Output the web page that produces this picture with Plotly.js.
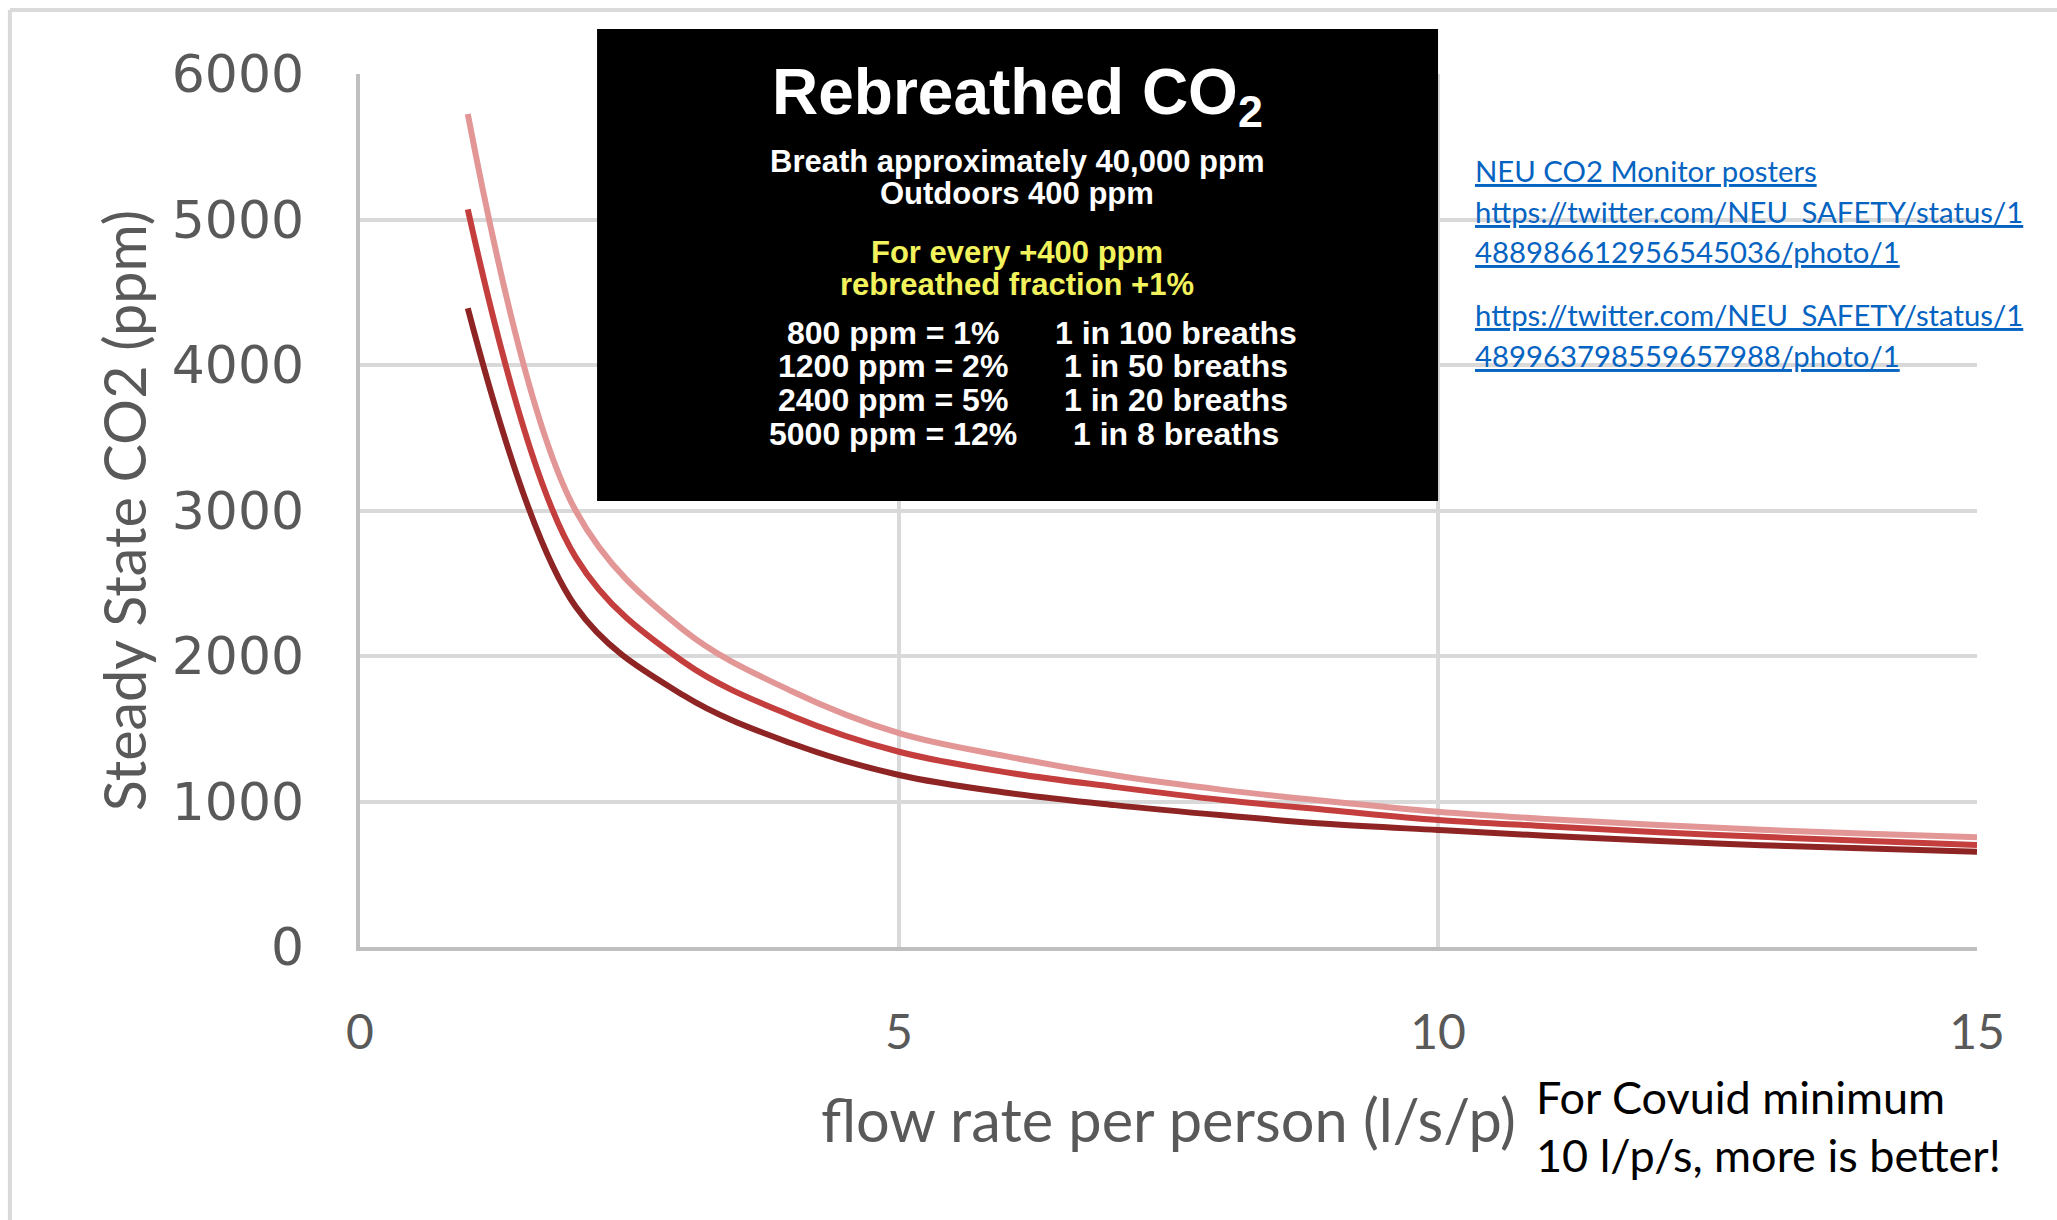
<!DOCTYPE html>
<html>
<head>
<meta charset="utf-8">
<script src="https://cdn.plot.ly/plotly-3.0.1.min.js"></script>
<style>
  html, body { margin: 0; padding: 0; background: #ffffff; overflow: hidden; }
  #chart { width: 2057px; height: 1220px; }
</style>
</head>
<body>
<div id="chart"></div>
<script>
// ---- data ----
const flowRate = [1, 2, 3, 4, 5, 6, 7, 8, 9, 10, 11, 12, 13, 14, 15];
const co2High  = [5725, 3000, 2180, 1760, 1470, 1310, 1180, 1080, 1000, 930, 880, 840, 805, 778, 754];
const co2Mid   = [5070, 2680, 1960, 1590, 1342, 1200, 1100, 1010, 940, 873, 830, 790, 757, 728, 701];
const co2Low   = [4390, 2340, 1730, 1400, 1182, 1060, 975, 905, 845, 804, 765, 730, 700, 677, 655];

const xTicks = [0, 5, 10, 15];
const yTicks = [0, 1000, 2000, 3000, 4000, 5000, 6000];

const xTitle = 'flow rate per person (l/s/p)';
const yTitle = 'Steady State CO2 (ppm)';

const boxTitle = 'Rebreathed CO<sub>2</sub>';
const boxIntro = ['Breath approximately 40,000 ppm', 'Outdoors 400 ppm'];
const boxYellow = ['For every +400 ppm', 'rebreathed fraction +1%'];
const boxRowsLeft = ['800 ppm = 1%', '1200 ppm = 2%', '2400 ppm = 5%', '5000 ppm = 12%'];
const boxRowsRight = ['1 in 100 breaths', '1 in 50 breaths', '1 in 20 breaths', '1 in 8 breaths'];

const linkLines = [
  'NEU CO2 Monitor posters',
  'https://twitter.com/NEU_SAFETY/status/1',
  '488986612956545036/photo/1',
  'https://twitter.com/NEU_SAFETY/status/1',
  '489963798559657988/photo/1'
];
const noteLines = ['For Covuid minimum', '10 l/p/s, more is better!'];

// ---- styling ----
const GRAY = '#595959';
const LATO = 'Lato, "Open Sans", sans-serif';
const BOLD = '"Liberation Sans", Arial, sans-serif';

const mk = (y, color) => ({
  x: flowRate, y: y, type: 'scatter', mode: 'lines',
  line: { color: color, width: 6, shape: 'spline', smoothing: 1 },
  hoverinfo: 'x+y', showlegend: false
});
const traces = [mk(co2Low, '#8E2424'), mk(co2Mid, '#C43E3E'), mk(co2High, '#E29696')];

const ann = [];
const boxCx = 0.4066;
ann.push({ xref: 'paper', yref: 'paper', x: boxCx, y: 0.9748, xanchor: 'center', yanchor: 'middle',
  text: '<b>' + boxTitle + '</b>', showarrow: false, font: { family: BOLD, size: 64, color: '#ffffff' } });
const introY = [0.8994, 0.8628];
boxIntro.forEach((t, i) => ann.push({ xref: 'paper', yref: 'paper', x: boxCx, y: introY[i], xanchor: 'center', yanchor: 'middle',
  text: '<b>' + t + '</b>', showarrow: false, borderpad: 0, font: { family: BOLD, size: 31, color: '#ffffff' } }));
const yellowY = [0.7959, 0.7592];
boxYellow.forEach((t, i) => ann.push({ xref: 'paper', yref: 'paper', x: boxCx, y: yellowY[i], xanchor: 'center', yanchor: 'middle',
  text: '<b>' + t + '</b>', showarrow: false, borderpad: 0, font: { family: BOLD, size: 31, color: '#F2F25C' } }));
const rowY = [0.7031, 0.6655, 0.6264, 0.5873];
boxRowsLeft.forEach((t, i) => ann.push({ xref: 'paper', yref: 'paper', x: 0.3299, y: rowY[i], xanchor: 'center', yanchor: 'middle',
  text: '<b>' + t + '</b>', showarrow: false, borderpad: 0, font: { family: BOLD, size: 32, color: '#ffffff' } }));
boxRowsRight.forEach((t, i) => ann.push({ xref: 'paper', yref: 'paper', x: 0.5044, y: rowY[i], xanchor: 'center', yanchor: 'middle',
  text: '<b>' + t + '</b>', showarrow: false, borderpad: 0, font: { family: BOLD, size: 32, color: '#ffffff' } }));

const linkY = [0.8894, 0.8428, 0.7962, 0.7241, 0.6775];
linkLines.forEach((t, i) => ann.push({ xref: 'paper', yref: 'paper', x: 0.6886, y: linkY[i], xanchor: 'left', yanchor: 'middle',
  text: t, showarrow: false, font: { family: LATO, size: 29.3, color: '#0563C1', lineposition: 'under' } }));

const noteY = [-0.1716, -0.2378];
noteLines.forEach((t, i) => ann.push({ xref: 'paper', yref: 'paper', x: 0.7260, y: noteY[i], xanchor: 'left', yanchor: 'middle',
  text: t, showarrow: false, font: { family: LATO, size: 45, color: '#000000' } }));

const shapes = [
  { type: 'rect', xref: 'paper', yref: 'paper', x0: 0.1466, x1: 0.6667, y0: 0.5109, y1: 1.0515,
    fillcolor: '#000000', line: { width: 0 }, layer: 'above' },
  { type: 'line', xref: 'paper', yref: 'paper', x0: -0.2165, x1: -0.2165, y0: -0.32, y1: 1.0733,
    line: { color: '#DADADA', width: 4 } },
  { type: 'line', xref: 'paper', yref: 'paper', x0: -0.2165, x1: 1.06, y0: 1.0733, y1: 1.0733,
    line: { color: '#DADADA', width: 4 } }
];

const layout = {
  width: 2057, height: 1220,
  margin: { l: 360, r: 80, t: 74, b: 273, pad: 0 },
  paper_bgcolor: '#ffffff', plot_bgcolor: '#ffffff',
  showlegend: false,
  xaxis: {
    range: [0, 15], tickvals: xTicks, ticktext: xTicks.map(String),
    showgrid: true, gridcolor: '#D9D9D9', gridwidth: 3.5,
    showline: true, linecolor: '#BFBFBF', linewidth: 4,
    zeroline: false, ticks: 'outside', ticklen: 40, tickcolor: 'rgba(0,0,0,0)',
    tickfont: { family: LATO, size: 48, color: GRAY },
    title: { text: xTitle, font: { family: LATO, size: 59.5, color: GRAY }, standoff: 44 },
    automargin: false, fixedrange: true
  },
  yaxis: {
    range: [0, 6000], tickvals: yTicks, ticktext: yTicks.map(String),
    showgrid: true, gridcolor: '#D9D9D9', gridwidth: 3.5,
    showline: true, linecolor: '#BFBFBF', linewidth: 4,
    zeroline: false, ticks: 'outside', ticklen: 41.5, tickcolor: 'rgba(0,0,0,0)',
    tickfont: { family: '"DejaVu Sans", sans-serif', size: 52, color: GRAY },
    title: { text: yTitle, font: { family: LATO, size: 57.5, color: GRAY }, standoff: 8 },
    automargin: false, fixedrange: true
  },
  annotations: ann,
  shapes: shapes
};

Plotly.newPlot('chart', traces, layout, { displayModeBar: false, staticPlot: false });
</script>
</body>
</html>
